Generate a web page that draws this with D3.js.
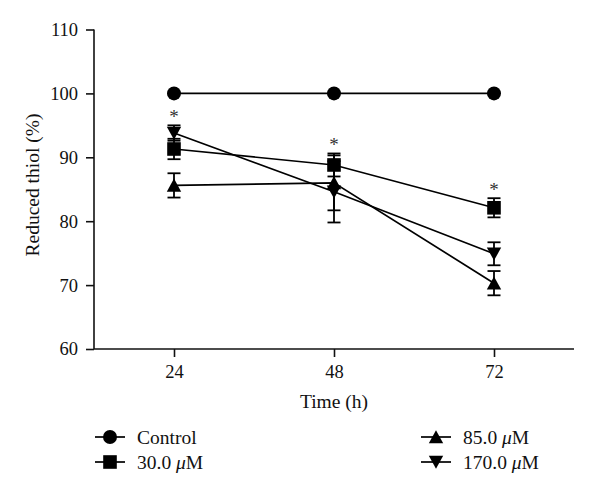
<!DOCTYPE html>
<html><head><meta charset="utf-8">
<script src="https://cdn.jsdelivr.net/npm/d3@7/dist/d3.min.js"></script>
<style>body{margin:0;background:#fff}svg{display:block}text{font-family:"Liberation Serif","Times New Roman",serif;fill:#111}</style>
</head><body>
<script>
const times = [24, 48, 72];
const xTicks = [24, 48, 72];
const yTicks = [60, 70, 80, 90, 100, 110];
const seriesNames = ["Control", "30.0 μM", "85.0 μM", "170.0 μM"];
const controlVals = [100, 100, 100];
const controlErr = [0, 0, 0];
const m30Vals = [91.3, 88.8, 82.1];
const m30Err = [1.6, 1.8, 1.5];
const m85Vals = [85.6, 86.0, 70.3];
const m85Err = [1.9, 4.3, 1.9];
const m170Vals = [93.8, 84.6, 74.9];
const m170Err = [1.2, 4.8, 1.8];
const starTimes = [24, 48, 72];
const starSeries = [3, 1, 1];

const W = 600, H = 496;
const svg = d3.select("body").append("svg").attr("width", W).attr("height", H);
const x = d3.scaleLinear().domain([12, 84]).range([94, 574]);
const y = d3.scaleLinear().domain([60, 110]).range([349, 29.5]);

const shapes = ["circle", "square", "up", "down"];
const series = [
  {vals: controlVals, err: controlErr},
  {vals: m30Vals, err: m30Err},
  {vals: m85Vals, err: m85Err},
  {vals: m170Vals, err: m170Err}
].map((s, i) => ({...s, name: seriesNames[i], shape: shapes[i]}));

function drawMarker(g, shape, cx, cy) {
  if (shape === "circle") g.append("circle").attr("cx", cx).attr("cy", cy).attr("r", 7).attr("fill", "#000");
  else if (shape === "square") g.append("rect").attr("x", cx - 6.8).attr("y", cy - 6.8).attr("width", 13.6).attr("height", 13.6).attr("fill", "#000");
  else if (shape === "up") g.append("path").attr("d", `M${cx},${cy-6.8}L${cx+7.2},${cy+6.3}L${cx-7.2},${cy+6.3}Z`).attr("fill", "#000");
  else g.append("path").attr("d", `M${cx},${cy+6.8}L${cx+7.2},${cy-6.3}L${cx-7.2},${cy-6.3}Z`).attr("fill", "#000");
}

// axes
const yAxis = svg.append("g").attr("transform", `translate(94,0)`)
  .call(d3.axisLeft(y).tickValues(yTicks).tickSize(8).tickPadding(8));
const xAxis = svg.append("g").attr("transform", `translate(0,349)`)
  .call(d3.axisBottom(x).tickValues(xTicks).tickSize(8).tickPadding(8));
[yAxis, xAxis].forEach(a => {
  a.select(".domain").attr("stroke", "#111").attr("stroke-width", 1.6);
  a.selectAll(".tick line").attr("stroke", "#111").attr("stroke-width", 1.6);
  a.selectAll(".tick text").style("font-size", "18.5px").attr("fill", "#111");
});
xAxis.select(".domain").attr("d", "M94,0H574");
yAxis.select(".domain").attr("d", `M0,${y(110)}V${y(60)}`);

svg.append("text").attr("x", 334).attr("y", 408).attr("text-anchor", "middle").style("font-size", "19.5px").text("Time (h)");
svg.append("text").attr("transform", `translate(39,185) rotate(-90)`).attr("text-anchor", "middle").style("font-size", "19.5px").text("Reduced thiol (%)");

const line = d3.line().x((d, i) => x(times[i])).y(d => y(d));
const plot = svg.append("g");
series.forEach(s => {
  plot.append("path").attr("d", line(s.vals)).attr("fill", "none").attr("stroke", "#000").attr("stroke-width", 1.7);
});
series.forEach(s => {
  s.vals.forEach((v, i) => {
    if (!s.err[i]) return;
    const cx = x(times[i]), y1 = y(v + s.err[i]), y2 = y(v - s.err[i]);
    plot.append("line").attr("x1", cx).attr("x2", cx).attr("y1", y1).attr("y2", y2).attr("stroke", "#000").attr("stroke-width", 1.8);
    [y1, y2].forEach(yy => plot.append("line").attr("x1", cx - 6.5).attr("x2", cx + 6.5).attr("y1", yy).attr("y2", yy).attr("stroke", "#000").attr("stroke-width", 1.8));
  });
});
series.forEach(s => {
  s.vals.forEach((v, i) => drawMarker(plot, s.shape, x(times[i]), y(v)));
});
starTimes.forEach((t, k) => {
  const s = series[starSeries[k]];
  const i = times.indexOf(t);
  const top = y(s.vals[i] + s.err[i]);
  svg.append("text").attr("x", x(t)).attr("y", top - 12 + 10).attr("text-anchor", "middle").style("font-size", "19px").style("fill", "#333").text("*");
});

// legend
const legPos = [[110, 437], [110, 462], [436, 437], [436, 462]];
series.forEach((s, i) => {
  const [cx, cy] = legPos[i];
  svg.append("line").attr("x1", cx - 15).attr("x2", cx + 15).attr("y1", cy).attr("y2", cy).attr("stroke", "#000").attr("stroke-width", 1.7);
  drawMarker(svg, s.shape, cx, cy);
  const t = svg.append("text").attr("x", cx + 27).attr("y", cy + 6.5).style("font-size", "19.5px");
  const parts = s.name.split("μ");
  if (parts.length > 1) {
    t.append("tspan").text(parts[0]);
    t.append("tspan").style("font-style", "italic").text("μ");
    t.append("tspan").text(parts[1]);
  } else t.text(s.name);
});
</script>
</body></html>
